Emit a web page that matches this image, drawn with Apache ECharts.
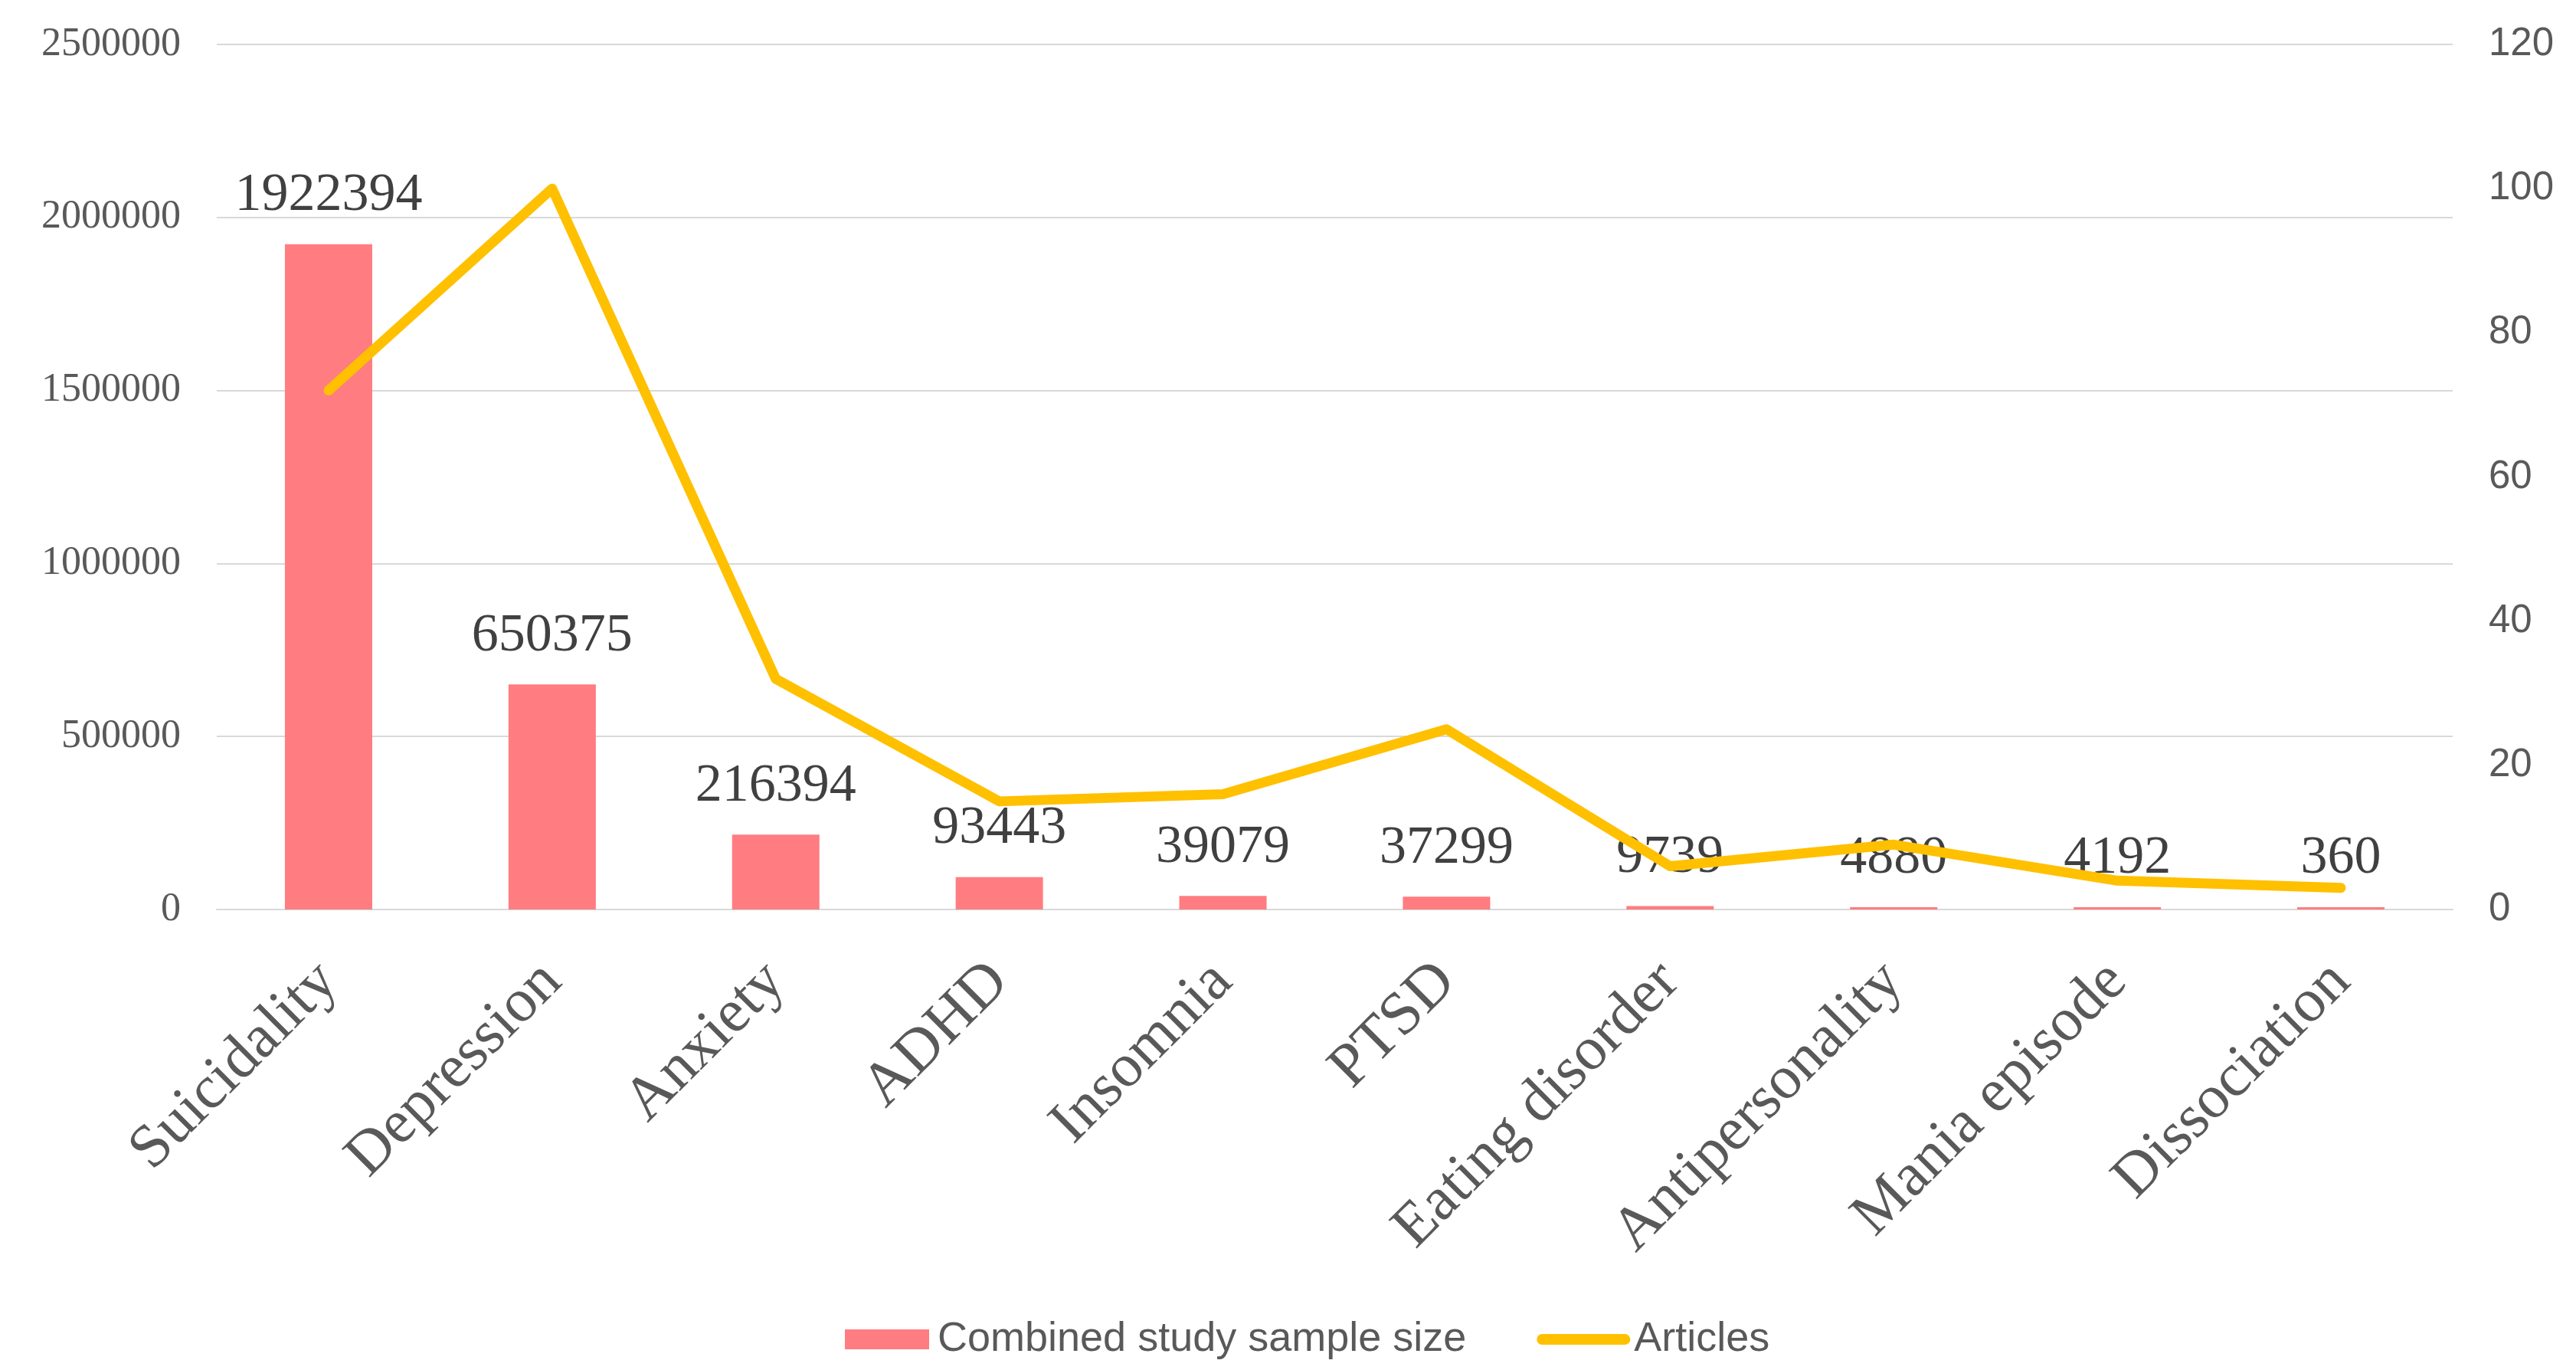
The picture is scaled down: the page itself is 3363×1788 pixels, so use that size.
<!DOCTYPE html>
<html>
<head>
<meta charset="utf-8">
<title>Combined study sample size and articles by condition</title>
<script src="https://cdn.jsdelivr.net/npm/echarts@6/dist/echarts.min.js"></script>
<style>
  html, body { margin: 0; padding: 0; background: #ffffff; }
  #chart { width: 3363px; height: 1788px; }
</style>
</head>
<body>
<div id="chart"></div>
<script>
// Conditions on the category axis
const categories = ['Suicidality', 'Depression', 'Anxiety', 'ADHD', 'Insomnia', 'PTSD',
  'Eating disorder', 'Antipersonality', 'Mania episode', 'Dissociation'];

// Combined study sample size (left axis)
const sampleSize = [1922394, 650375, 216394, 93443, 39079, 37299, 9739, 4880, 4192, 360];

// Number of articles (right axis)
const articles = [72, 100, 32, 15, 16, 25, 6, 9, 4, 3];

// Axis tick settings
const leftTicks = { min: 0, max: 2500000, interval: 500000 };
const rightTicks = { min: 0, max: 120, interval: 20 };

const seriesNames = ['Combined study sample size', 'Articles'];

const serif = '"Liberation Serif", "DejaVu Serif", serif';
const sans = '"Liberation Sans", Arial, sans-serif';

const chart = echarts.init(document.getElementById('chart'), null, { renderer: 'canvas' });

chart.setOption({
  backgroundColor: '#ffffff',
  animation: false,
  grid: {
    left: 283, right: 161, top: 58, bottom: 601,
    containLabel: false,
    outerBoundsMode: 'none'
  },
  legend: {
    left: 1098,
    top: 1716,
    itemWidth: 122,
    itemHeight: 26,
    itemGap: 92,
    textStyle: { fontFamily: sans, fontSize: 54, color: '#595959' },
    data: [
      { name: seriesNames[0], icon: 'path://M0,0 H110 V26 H0 Z' },
      { name: seriesNames[1], icon: 'path://M7,0 H115 A7,7 0 0 1 115,14 H7 A7,7 0 0 1 7,0 Z' }
    ]
  },
  xAxis: {
    type: 'category',
    data: categories,
    axisLine: { show: true, lineStyle: { color: '#D9D9D9', width: 2 } },
    axisTick: { show: false },
    axisLabel: {
      rotate: 45,
      margin: 82,
      interval: 0,
      fontFamily: serif,
      fontSize: 80,
      color: '#595959'
    }
  },
  yAxis: [
    {
      type: 'value',
      min: leftTicks.min, max: leftTicks.max, interval: leftTicks.interval,
      axisLine: { show: false },
      axisTick: { show: false },
      splitLine: { show: true, lineStyle: { color: '#D9D9D9', width: 2 } },
      axisLabel: {
        margin: 47, fontFamily: serif, fontSize: 52, color: '#595959',
        formatter: (v) => String(v)
      }
    },
    {
      type: 'value',
      min: rightTicks.min, max: rightTicks.max, interval: rightTicks.interval,
      axisLine: { show: false },
      axisTick: { show: false },
      splitLine: { show: false },
      axisLabel: { margin: 47, fontFamily: sans, fontSize: 51, color: '#595959' }
    }
  ],
  series: [
    {
      name: seriesNames[0],
      type: 'bar',
      yAxisIndex: 0,
      data: sampleSize,
      barWidth: 114,
      barMinHeight: 3,
      itemStyle: { color: '#FF7C80' },
      label: {
        show: true,
        position: 'top',
        distance: 28,
        fontFamily: serif,
        fontSize: 70,
        color: '#404040'
      },
      z: 2
    },
    {
      name: seriesNames[1],
      type: 'line',
      yAxisIndex: 1,
      data: articles,
      symbol: 'none',
      itemStyle: { color: '#FFC000' },
      lineStyle: { color: '#FFC000', width: 13, cap: 'round', join: 'round' },
      z: 5
    }
  ]
});
</script>
</body>
</html>
